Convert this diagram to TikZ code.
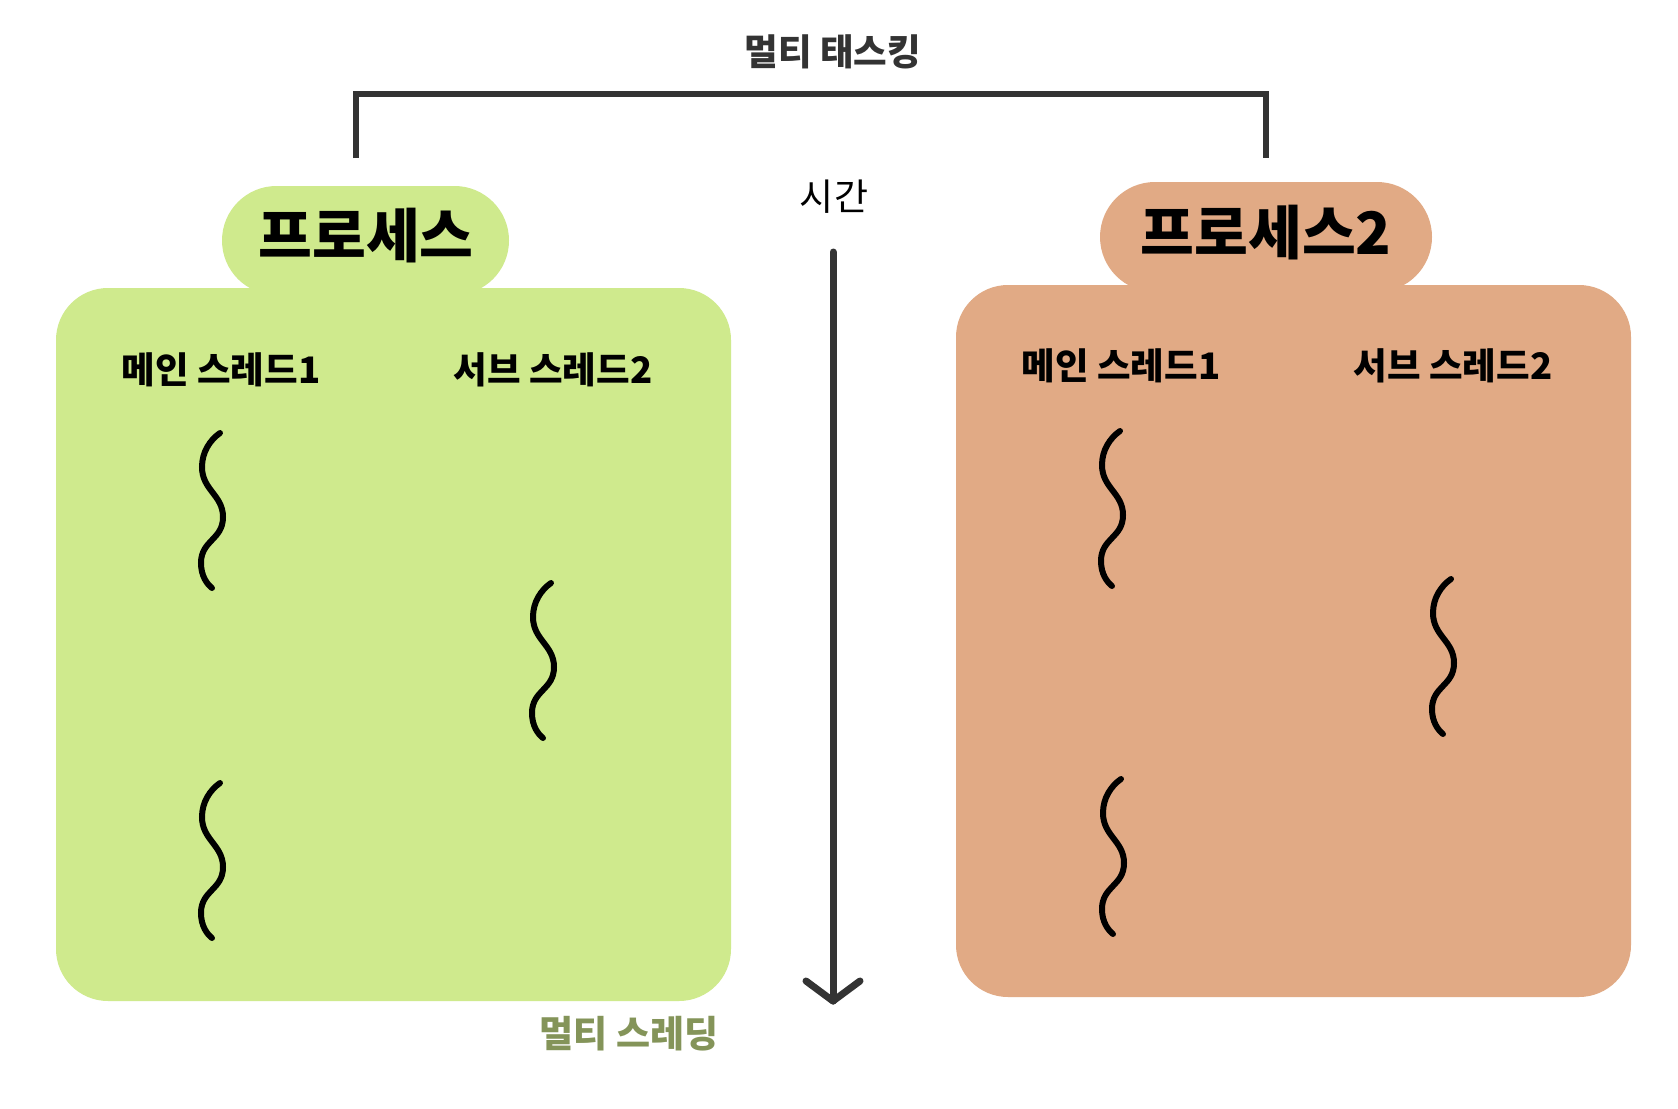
\documentclass[tikz,border=0pt]{standalone}
\usepackage{fontspec}
\newfontfamily\kr{Noto Sans CJK KR}
\definecolor{gfill}{RGB}{207,234,141}
\definecolor{ofill}{RGB}{225,170,133}
\definecolor{darkline}{RGB}{51,51,51}
\definecolor{olivetxt}{RGB}{132,148,89}
\tikzset{
  wave/.style={line width=6pt, line cap=round, black},
  squig/.pic={\draw[wave] (8,-77) .. controls (-2,-70) and (-10,-58) .. (-10,-43)
     .. controls (-10,-20) and (11,-15) .. (11,7)
     .. controls (11,30) and (-11,30) .. (-11,53)
     .. controls (-11,66) and (-5,74) .. (0,78);},
  bigtxt/.style={font=\kr\bfseries\fontsize{58.5}{62}\selectfont, inner sep=0pt},
  lbl/.style={font=\kr\bfseries\fontsize{36.5}{42}\selectfont, inner sep=0pt},
  heavy/.style={line width=6pt, draw=darkline},
}
\begin{document}
\begin{tikzpicture}[x=1pt,y=-1pt]
\useasboundingbox (0,0) rectangle (1678,1108);
\fill[white] (0,0) rectangle (1678,1108);
% bracket
\coordinate (bl) at (356,158);
\coordinate (br) at (1266,158);
\draw[heavy, line join=miter] (bl) |- (811,94) -| (br);
\node[font=\kr\bfseries\fontsize{36.5}{42}\selectfont, text=darkline, inner sep=0pt] (title) at (833,52) {멀티 태스킹};
% green process
\fill[gfill, rounded corners=54.5pt] (222,186) rectangle (509,295);
\fill[gfill, rounded corners=52pt] (56,288) rectangle (731,1001);
\node[bigtxt] (p1) at (366,236) {프로세스};
\node[lbl] (g1) at (221,370) {메인 스레드1};
\node[lbl] (g2) at (553,370) {서브 스레드2};
\pic at (212,510) {squig};
\pic at (212,860) {squig};
\pic at (543,660) {squig};
% orange process
\fill[ofill, rounded corners=55pt] (1100,182) rectangle (1432,292);
\fill[ofill, rounded corners=52pt] (956,285) rectangle (1631,997);
\node[bigtxt] (p2) at (1266,233) {프로세스2};
\node[lbl] (o1) at (1121,366) {메인 스레드1};
\node[lbl] (o2) at (1453,366) {서브 스레드2};
\pic at (1112,508) {squig};
\pic at (1113,856) {squig};
\pic at (1443,656) {squig};
% time arrow
\node[font=\kr\fontsize{37}{42}\selectfont, inner sep=0pt] (time) at (834,197) {시간};
\coordinate (ta) at (833,252);
\coordinate (tb) at (833,1001);
\coordinate (wl) at (806,981);
\coordinate (wr) at (860,981);
\draw[heavy, line width=7pt, line cap=round] (ta) -- (tb);
\draw[heavy, line width=7pt, line cap=round, line join=round] (wl) -- (tb) -- (wr);
% multi threading label
\node[font=\kr\bfseries\fontsize{37}{42}\selectfont, text=olivetxt, inner sep=0pt] (mt) at (629,1034) {멀티 스레딩};
\end{tikzpicture}
\end{document}
